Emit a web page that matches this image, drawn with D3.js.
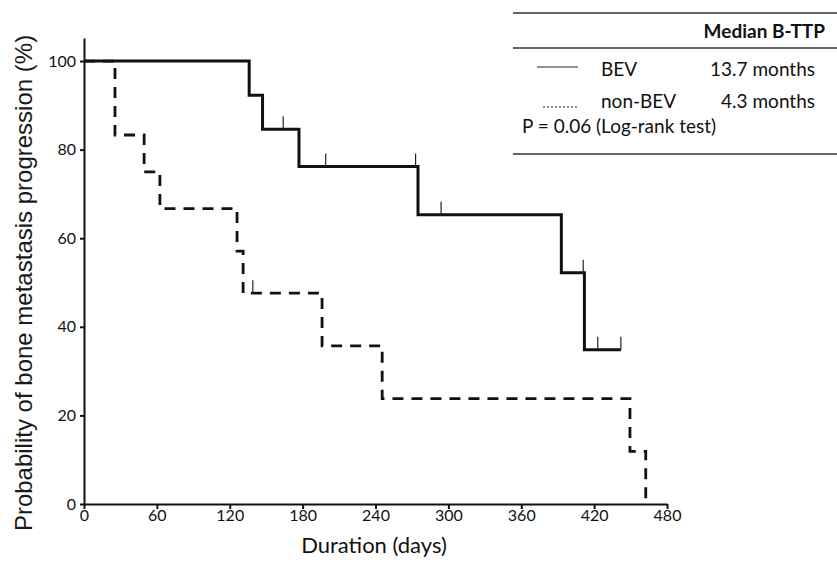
<!DOCTYPE html>
<html lang="en">
<head>
  <meta charset="UTF-8">
  <title>Bone metastasis progression (Kaplan-Meier)</title>
  <script src="https://d3js.org/d3.v7.min.js"></script>
  <style>
    body { margin: 0; background: #fff; }
    .tick text { font-family: Lato, sans-serif; font-size: 16px; fill: #111; }
    .axis path, .axis line { stroke: #111; stroke-width: 2; }
  </style>
</head>
<body>

<div id="chartContainer"></div>

<script>
  // Kaplan-Meier steps (days, % free of progression)
  const bevTimes = [0, 136, 147, 177, 275, 393, 412, 442];
  const bevSurv = [100, 92.3, 84.6, 76.2, 65.3, 52.2, 34.8, 34.8];
  const bevCensorTimes = [164, 199, 273, 294, 411, 423, 442];
  const bevCensorSurv = [84.6, 76.2, 76.2, 65.3, 52.2, 34.8, 34.8];

  const nonTimes = [0, 25.5, 49.5, 62.5, 126, 131, 196, 245.5, 449.5, 462.5];
  const nonSurv = [100, 83.3, 75, 66.7, 57.1, 47.6, 35.7, 23.8, 11.9, 0];
  const nonCensorTimes = [139];
  const nonCensorSurv = [47.6];

  const xTicks = [0, 60, 120, 180, 240, 300, 360, 420, 480];
  const yTicks = [0, 20, 40, 60, 80, 100];

  const legendRows = ["BEV", "non-BEV"];
  const legendMedians = ["13.7 months", "4.3 months"];

  const width = 837;
  const height = 565;

  const svg = d3.select("#chartContainer")
    .append("svg")
    .attr("width", width)
    .attr("height", height);

  const xScale = d3.scaleLinear().domain([0, 480]).range([84, 667]);
  const yScale = d3.scaleLinear().domain([0, 105.2]).range([504, 38]);

  // axes
  svg.append("g")
    .attr("class", "axis")
    .attr("transform", "translate(0,504)")
    .call(d3.axisBottom(xScale).tickValues(xTicks).tickSize(5).tickSizeOuter(0).tickPadding(1));

  svg.append("g")
    .attr("class", "axis")
    .attr("transform", "translate(84,0)")
    .call(d3.axisLeft(yScale).tickValues(yTicks).tickSize(4).tickSizeOuter(0).tickPadding(4));

  // step curves
  const line = d3.line()
    .x(d => xScale(d[0]))
    .y(d => yScale(d[1]))
    .curve(d3.curveStepAfter);

  const nonData = nonTimes.map((t, i) => [t, nonSurv[i]]);
  const bevData = bevTimes.map((t, i) => [t, bevSurv[i]]);

  svg.append("path")
    .datum(nonData)
    .attr("d", line)
    .attr("fill", "none")
    .attr("stroke", "#111")
    .attr("stroke-width", 2.8)
    .attr("stroke-dasharray", "11,8");

  svg.append("path")
    .datum(bevData)
    .attr("d", line)
    .attr("fill", "none")
    .attr("stroke", "#111")
    .attr("stroke-width", 3);

  // censor marks
  function drawCensors(times, surv) {
    svg.append("g").selectAll("line")
      .data(times.map((t, i) => [t, surv[i]]))
      .enter().append("line")
      .attr("x1", d => xScale(d[0]))
      .attr("x2", d => xScale(d[0]))
      .attr("y1", d => yScale(d[1]))
      .attr("y2", d => yScale(d[1]) - 13)
      .attr("stroke", "#222")
      .attr("stroke-width", 1.2);
  }
  drawCensors(bevCensorTimes, bevCensorSurv);
  drawCensors(nonCensorTimes, nonCensorSurv);

  // axis titles
  svg.append("text")
    .attr("transform", "translate(32,283) rotate(-90)")
    .attr("text-anchor", "middle")
    .style("font-family", "'Liberation Sans', Arial, sans-serif")
    .style("font-size", "24px")
    .attr("fill", "#1a1a1a")
    .text("Probability of bone metastasis progression (%)");

  svg.append("text")
    .attr("x", 374)
    .attr("y", 553)
    .attr("text-anchor", "middle")
    .style("font-family", "Lato, sans-serif")
    .style("font-size", "22px")
    .attr("fill", "#111")
    .text("Duration (days)");

  // legend table
  const lg = svg.append("g").style("font-family", "Lato, sans-serif").style("font-size", "19px").attr("fill", "#111");

  [13, 48, 154].forEach(y => {
    lg.append("line")
      .attr("x1", 513).attr("x2", 837)
      .attr("y1", y).attr("y2", y)
      .attr("stroke", "#333").attr("stroke-width", 1.5);
  });

  lg.append("text")
    .attr("x", 825).attr("y", 38)
    .attr("text-anchor", "end")
    .style("font-weight", "bold")
    .text("Median B-TTP");

  const rowY = [76, 108];
  const sampleY = [67, 107];
  const sampleDash = [null, "2,2"];
  const sampleX1 = [537, 543];

  legendRows.forEach((name, i) => {
    lg.append("line")
      .attr("x1", sampleX1[i]).attr("x2", 578)
      .attr("y1", sampleY[i]).attr("y2", sampleY[i])
      .attr("stroke", "#222").attr("stroke-width", 1.2)
      .attr("stroke-dasharray", sampleDash[i]);
    lg.append("text").attr("x", 601).attr("y", rowY[i]).text(name);
    lg.append("text").attr("x", 815).attr("y", rowY[i]).attr("text-anchor", "end").text(legendMedians[i]);
  });

  lg.append("text")
    .attr("x", 522).attr("y", 133)
    .text("P = 0.06 (Log-rank test)");
</script>

</body>
</html>
